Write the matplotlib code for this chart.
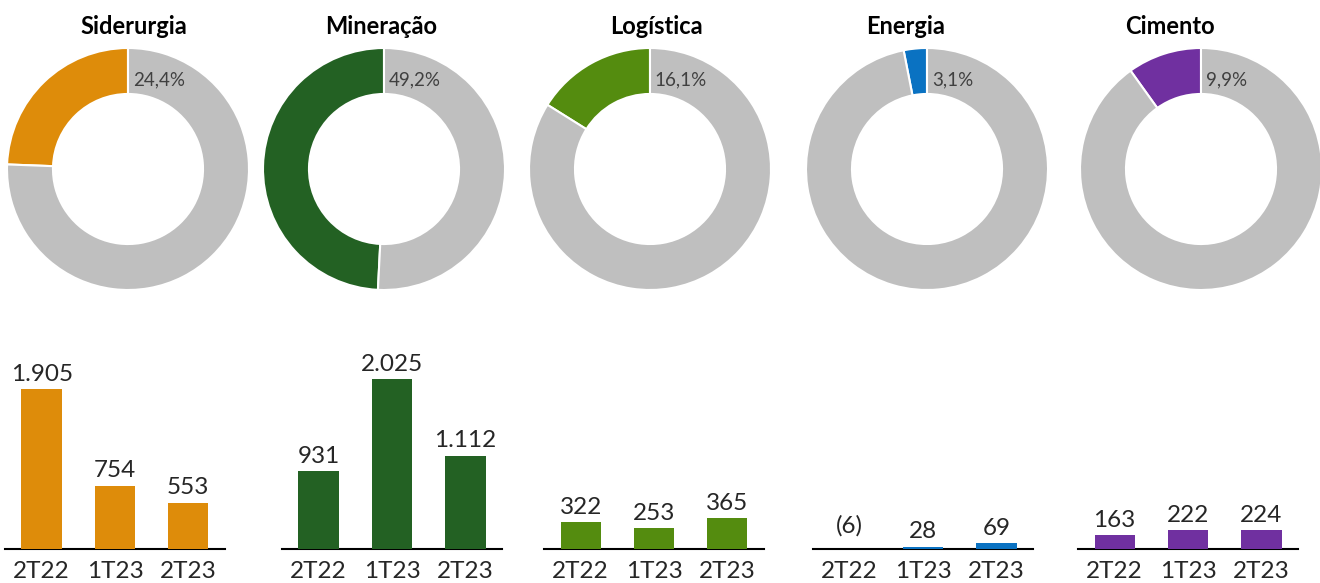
import matplotlib.pyplot as plt

plt.rcParams["font.family"] = ["Lato", "DejaVu Sans"]

segments = ["Siderurgia", "Mineração", "Logística", "Energia", "Cimento"]
shares = [24.4, 49.2, 16.1, 3.1, 9.9]
share_labels = ["24,4%", "49,2%", "16,1%", "3,1%", "9,9%"]
quarters = ["2T22", "1T23", "2T23"]
siderurgia = [1905, 754, 553]
mineracao = [931, 2025, 1112]
logistica = [322, 253, 365]
energia = [-6, 28, 69]
cimento = [163, 222, 224]
value_labels = [
    ["1.905", "754", "553"],
    ["931", "2.025", "1.112"],
    ["322", "253", "365"],
    ["(6)", "28", "69"],
    ["163", "222", "224"],
]
series = [siderurgia, mineracao, logistica, energia, cimento]
colors = ["#DE8C0A", "#236123", "#548C0F", "#0A72C2", "#7030A0"]
gray = "#BFBFBF"
text_color = "#262626"

W, H = 1320, 583
fig = plt.figure(figsize=(W / 100, H / 100), dpi=100)

# layout in pixels
donut_cx = [128, 384, 650, 927, 1201]
donut_cy = 169
donut_r = 121
title_x = [134, 381, 656, 906, 1170]
bar_x0 = [5, 282, 544, 813, 1078]
bar_w = 220
base_y = 549
px_per_unit = 0.084
ymax = 2300


def px_axes(x0, y0, w, h):
    return fig.add_axes([x0 / W, 1 - (y0 + h) / H, w / W, h / H])


for i, name in enumerate(segments):
    # donut
    ax = px_axes(donut_cx[i] - donut_r, donut_cy - donut_r, 2 * donut_r, 2 * donut_r)
    ax.pie(
        [shares[i], 100 - shares[i]],
        colors=[colors[i], gray],
        startangle=90,
        counterclock=True,
        radius=1,
        wedgeprops=dict(width=0.38, edgecolor="white", linewidth=1.5),
    )
    ax.set_xlim(-1, 1)
    ax.set_ylim(-1, 1)
    ax.set_aspect("equal")
    ax.axis("off")
    ax.text(0.04, 0.735, share_labels[i], ha="left", va="center",
            fontsize=13.5, color="#404040")
    fig.text(title_x[i] / W, 1 - 27 / H, name, ha="center", va="center",
             fontsize=17, fontweight="bold", color="black")

    # bars
    h = ymax * px_per_unit
    bx = px_axes(bar_x0[i], base_y - h, bar_w, h)
    vals = series[i]
    xs = range(len(quarters))
    bx.bar(xs, vals, width=0.55, color=colors[i], linewidth=0, zorder=3)
    bx.set_xlim(-0.5, 2.5)
    bx.set_ylim(0, ymax)
    for sp in ["top", "right", "left"]:
        bx.spines[sp].set_visible(False)
    bx.spines["bottom"].set_linewidth(1.5)
    bx.spines["bottom"].set_color("black")
    bx.spines["bottom"].set_zorder(2)
    bx.set_yticks([])
    bx.set_xticks(list(xs))
    bx.set_xticklabels(quarters, fontsize=17.5, color=text_color)
    bx.tick_params(axis="x", length=0, pad=9)
    for x, v, lab in zip(xs, vals, value_labels[i]):
        off = 9 if v < 0 else 3
        bx.annotate(lab, (x, max(v, 0)), xytext=(0, off), textcoords="offset points",
                    ha="center", va="bottom", fontsize=17.5, color=text_color)

fig.savefig("out.png", dpi=100)
